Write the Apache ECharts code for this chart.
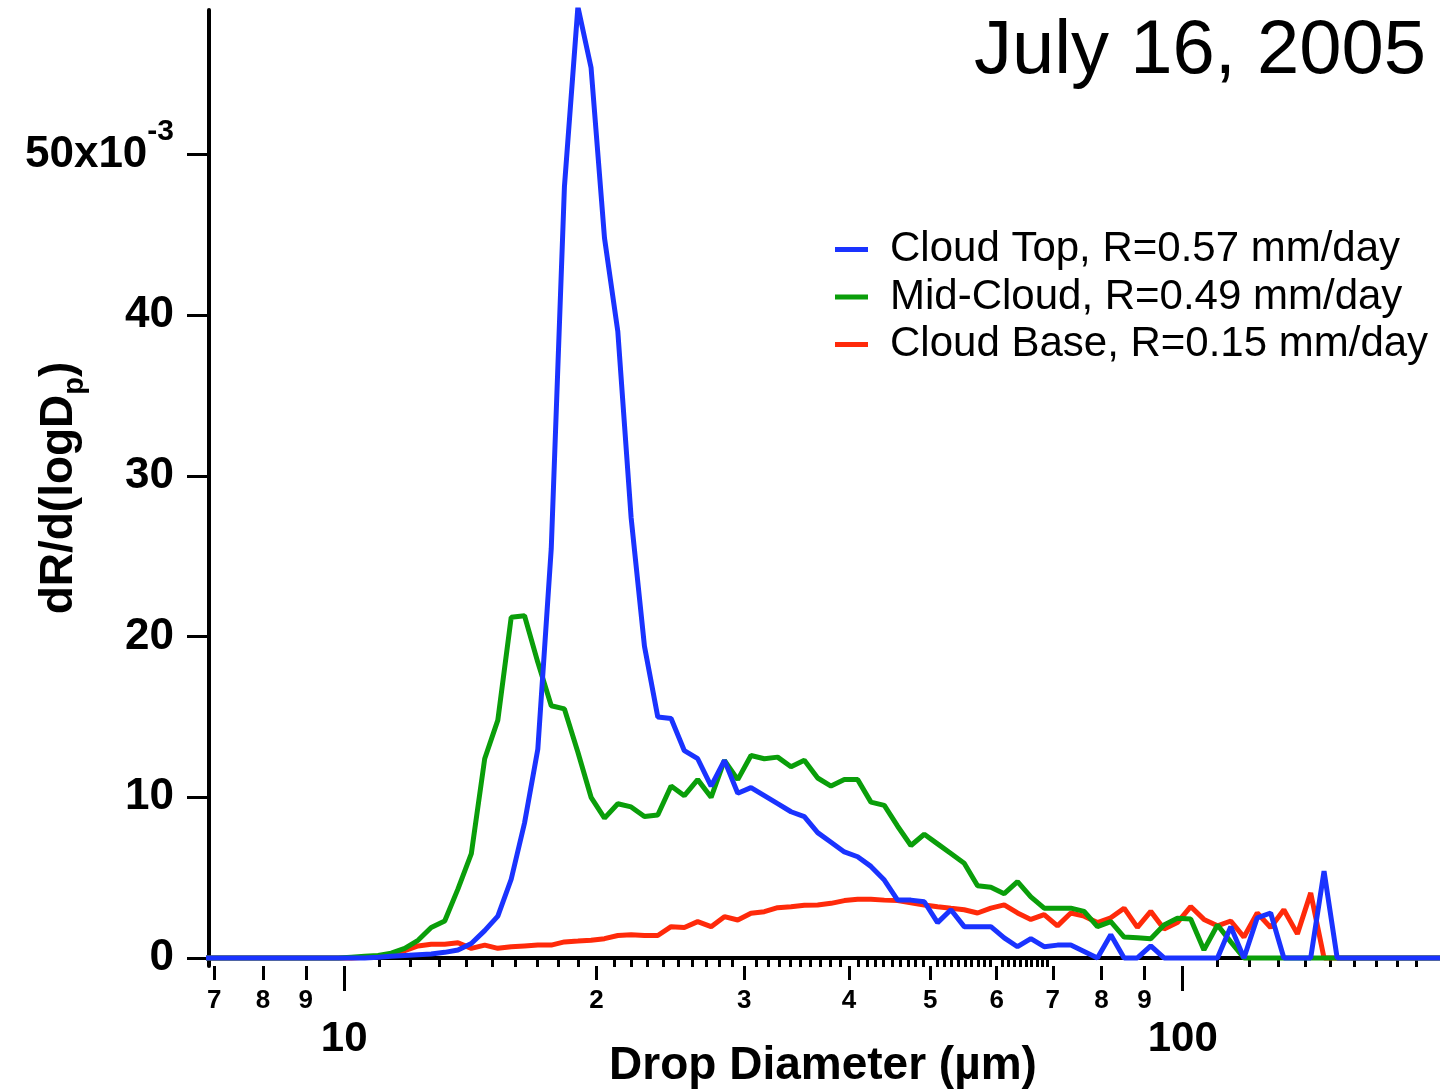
<!DOCTYPE html>
<html>
<head>
<meta charset="utf-8">
<script src="https://cdn.jsdelivr.net/npm/echarts@6/dist/echarts.min.js"></script>
<style>
  html, body { margin: 0; padding: 0; background: #ffffff; }
  #chart { width: 1446px; height: 1089px; }
</style>
</head>
<body>
<div id="chart"></div>
<script>
// Bin mid-point drop diameters (µm)
const diameters = [6.82, 7.08, 7.34, 7.61, 7.90, 8.19, 8.50, 8.81, 9.14, 9.48, 9.84, 10.20, 10.58, 10.98, 11.38, 11.81,
  12.25, 12.70, 13.18, 13.67, 14.18, 14.71, 15.25, 15.82, 16.41, 17.02, 17.66, 18.31, 19.00, 19.70, 20.44, 21.20,
  21.99, 22.81, 23.66, 24.54, 25.45, 26.40, 27.39, 28.41, 29.47, 30.56, 31.70, 32.88, 34.11, 35.38, 36.70, 38.07,
  39.49, 40.96, 42.48, 44.07, 45.71, 47.41, 49.18, 51.01, 52.91, 54.88, 56.93, 59.05, 61.25, 63.53, 65.90, 68.35,
  70.90, 73.54, 76.28, 79.12, 82.07, 85.13, 88.30, 91.59, 95.00, 98.53, 102.2, 106.0, 110.0, 114.1, 118.3, 122.7,
  127.3, 132.0, 137.0, 142.1, 147.4, 152.8, 158.5, 164.4, 170.6, 176.9, 183.5, 190.4, 197.4, 204.8];

// dR/d(logDp) in units of 10^-3 mm/day, one value per diameter bin
const cloudTop = [0, 0, 0, 0, 0, 0, 0, 0, 0, 0, 0, 0, 0,
  0.05, 0.1, 0.15, 0.2, 0.25, 0.35, 0.5, 0.9, 1.7, 2.6, 4.9, 8.4, 13.0, 25.5, 48.0, 59.2,
  55.4, 44.8, 39.0, 27.4, 19.4, 15.0, 14.9, 12.9, 12.4, 10.7, 12.3, 10.25, 10.6, 10.1, 9.6, 9.1,
  8.8, 7.8, 7.2, 6.6, 6.3, 5.7, 4.85, 3.6, 3.6, 3.5, 2.2, 3.0, 1.95, 1.95, 1.95, 1.25,
  0.7, 1.2, 0.7, 0.8, 0.8, 0.4, 0, 1.45, 0, 0, 0.75, 0, 0, 0, 0, 0,
  1.95, 0, 2.5, 2.8, 0, 0, 0, 5.4,
  0, 0, 0, 0, 0, 0, 0, 0, 0];

const midCloud = [0, 0, 0, 0, 0, 0, 0, 0, 0, 0, 0,
  0.05, 0.1, 0.15, 0.3, 0.6, 1.1, 1.9, 2.3, 4.3, 6.5, 12.4, 14.8, 21.2, 21.3, 18.4, 15.7, 15.5,
  12.8, 10.0, 8.7, 9.6, 9.4, 8.8, 8.9, 10.7, 10.1, 11.1, 10.0, 12.3, 11.1, 12.6, 12.4, 12.5,
  11.9, 12.3, 11.2, 10.7, 11.1, 11.1, 9.7, 9.5, 8.2, 7.0, 7.7, 7.1, 6.5, 5.9, 4.5, 4.4,
  4.0, 4.75, 3.8, 3.1, 3.1, 3.1, 2.9, 1.95, 2.26, 1.3, 1.26, 1.2, 2.05, 2.47, 2.43, 0.5,
  2.05, 1.0,
  0, 0, 0, 0, 0, 0, 0, 0, 0, 0, 0, 0, 0, 0, 0, 0];

const cloudBase = [0, 0, 0, 0, 0, 0, 0, 0, 0, 0, 0, 0,
  0.05, 0.1, 0.2, 0.45, 0.75, 0.85, 0.85, 0.95, 0.6, 0.8, 0.6, 0.7, 0.75, 0.8, 0.8, 1.0,
  1.05, 1.1, 1.2, 1.4, 1.45, 1.4, 1.4, 1.95, 1.9, 2.26, 1.95, 2.57, 2.36, 2.78, 2.88, 3.13,
  3.19, 3.28, 3.3, 3.4, 3.57, 3.65, 3.65, 3.6, 3.57, 3.44, 3.3, 3.19, 3.09, 3.0, 2.8, 3.1,
  3.3, 2.8, 2.4, 2.7, 2.0, 2.8, 2.6, 2.2, 2.5, 3.1, 1.9, 2.9, 1.8, 2.2, 3.2, 2.4,
  2.0, 2.3, 1.3, 2.8, 1.9, 3.0, 1.5, 4.05,
  0, 0, 0, 0, 0, 0, 0, 0, 0, 0];

const seriesNames = ['Cloud Top, R=0.57 mm/day', 'Mid-Cloud, R=0.49 mm/day', 'Cloud Base, R=0.15 mm/day'];
const seriesColors = ['#1a33ff', '#0a9e0a', '#ff2a0a'];
const chartTitle = 'July 16, 2005';

// Axis tick positions
const minorTicks = [11, 12, 13, 14, 15, 16, 17, 18, 19, 21, 22, 23, 24, 25, 26, 27, 28, 29,
  31, 32, 33, 34, 35, 36, 37, 38, 39, 41, 42, 43, 44, 45, 46, 47, 48, 49,
  51, 52, 53, 54, 55, 56, 57, 58, 59, 61, 62, 63, 64, 65, 66, 67, 68, 69,
  110, 120, 130, 140, 150, 160, 170, 180, 190];
const labeledTicks = [7, 8, 9, 20, 30, 40, 50, 60, 70, 80, 90];
const decadeTicks = [10, 100];
const yTicks = [0, 10, 20, 30, 40, 50];

const FONT = '"Liberation Sans", Arial, Helvetica, sans-serif';

const chart = echarts.init(document.getElementById('chart'), null, { renderer: 'canvas' });

const xBase = {
  type: 'log', logBase: 10, min: 6.9, max: 201, gridIndex: 0, position: 'bottom',
  splitLine: { show: false }, minorTick: { show: false }, nameMoveOverlap: false
};

const pair = arr => diameters.map((d, i) => [d, arr[i]]);

const option = {
  animation: false,
  backgroundColor: '#ffffff',
  textStyle: { fontFamily: FONT, color: '#000' },
  title: {
    text: chartTitle, right: 15, top: 9,
    textStyle: { fontFamily: FONT, fontSize: 76, fontWeight: 'normal', color: '#000' }
  },
  legend: {
    data: seriesNames,
    orient: 'vertical', left: 830, top: 223,
    icon: 'rect', itemWidth: 33, itemHeight: 5, itemGap: 4.5,
    textStyle: { fontFamily: FONT, fontSize: 42, lineHeight: 43, color: '#000', padding: [0, 0, 0, 17] }
  },
  grid: { left: 209, right: 9, top: 10, bottom: 123, containLabel: false, outerBoundsMode: 'none' },
  xAxis: [
    Object.assign({}, xBase, {
      axisLine: { show: true, lineStyle: { color: '#000', width: 4 } },
      axisTick: { show: true, customValues: minorTicks, length: 9, lineStyle: { color: '#000', width: 3 } },
      axisLabel: { show: false },
      name: 'Drop Diameter (µm)', nameLocation: 'middle', nameGap: 77,
      nameTextStyle: { fontFamily: FONT, fontSize: 46, fontWeight: 'bold', color: '#000' }
    }),
    Object.assign({}, xBase, {
      axisLine: { show: false },
      axisTick: { show: true, customValues: labeledTicks, length: 14, lineStyle: { color: '#000', width: 3 } },
      axisLabel: {
        show: true, customValues: labeledTicks, margin: 22,
        fontFamily: FONT, fontSize: 26, fontWeight: 'bold', color: '#000',
        formatter: v => String(v < 10 ? v : Math.round(v / 10))
      }
    }),
    Object.assign({}, xBase, {
      axisLine: { show: false },
      axisTick: { show: true, customValues: decadeTicks, length: 25, lineStyle: { color: '#000', width: 3 } },
      axisLabel: {
        show: true, customValues: decadeTicks, margin: 52,
        fontFamily: FONT, fontSize: 42, fontWeight: 'bold', color: '#000'
      }
    })
  ],
  yAxis: {
    type: 'value', min: -0.5, max: 59, nameMoveOverlap: false,
    axisLine: { show: true, lineStyle: { color: '#000', width: 4 } },
    axisTick: { show: true, customValues: yTicks, length: 22, lineStyle: { color: '#000', width: 3 } },
    splitLine: { show: false },
    axisLabel: {
      customValues: yTicks, margin: 35,
      fontFamily: FONT, fontSize: 44, fontWeight: 'bold', color: '#000',
      formatter: v => v === 50 ? '{m|50x10}{s|-3}' : String(v),
      rich: {
        m: { fontFamily: FONT, fontSize: 44, fontWeight: 'bold', lineHeight: 44, padding: [16, 0, 16, 0] },
        s: { fontFamily: FONT, fontSize: 30, fontWeight: 'bold', lineHeight: 30, padding: [0, 0, 46, 0] }
      }
    },
    name: 'dR/d(logD{p|p})', nameLocation: 'middle', nameRotate: 90, nameGap: 127,
    nameTextStyle: {
      fontFamily: FONT, fontSize: 46, fontWeight: 'bold', color: '#000',
      rich: {
        p: { fontFamily: FONT, fontSize: 29, fontWeight: 'bold', lineHeight: 29, padding: [31, 0, 0, 0] }
      }
    }
  },
  series: [
    { name: seriesNames[2], type: 'line', data: pair(cloudBase), symbol: 'none', color: seriesColors[2],
      lineStyle: { width: 5, color: seriesColors[2] }, xAxisIndex: 0, yAxisIndex: 0, clip: true },
    { name: seriesNames[1], type: 'line', data: pair(midCloud), symbol: 'none', color: seriesColors[1],
      lineStyle: { width: 5, color: seriesColors[1] }, xAxisIndex: 0, yAxisIndex: 0, clip: true },
    { name: seriesNames[0], type: 'line', data: pair(cloudTop), symbol: 'none', color: seriesColors[0],
      lineStyle: { width: 5, color: seriesColors[0] }, xAxisIndex: 0, yAxisIndex: 0, clip: true }
  ]
};

chart.setOption(option);
</script>
</body>
</html>
